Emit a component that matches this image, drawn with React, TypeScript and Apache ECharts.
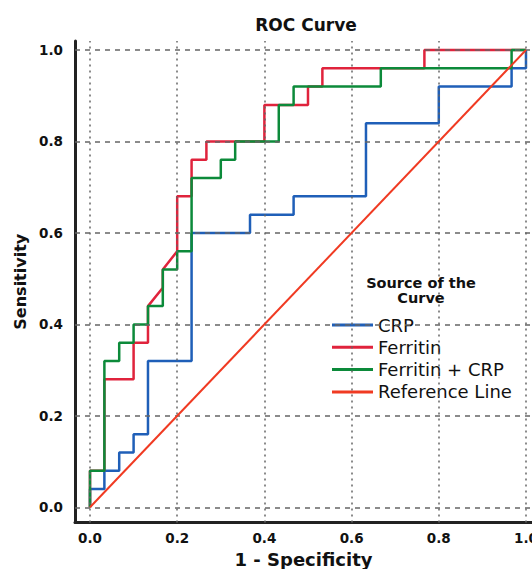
import React, { useEffect, useRef } from "react";
import * as echarts from "echarts";

const xTicks = [0, 0.2, 0.4, 0.6, 0.8, 1.0];
const yTicks = [0, 0.2, 0.4, 0.6, 0.8, 1.0];

const crpX = [0, 0, 0.033, 0.033, 0.067, 0.067, 0.1, 0.1, 0.133, 0.133, 0.233, 0.233, 0.367, 0.367, 0.467, 0.467, 0.633, 0.633, 0.8, 0.8, 0.967, 0.967, 1, 1];
const crpY = [0, 0.04, 0.04, 0.08, 0.08, 0.12, 0.12, 0.16, 0.16, 0.32, 0.32, 0.6, 0.6, 0.64, 0.64, 0.68, 0.68, 0.84, 0.84, 0.92, 0.92, 0.96, 0.96, 1];

const ferX = [0, 0, 0.033, 0.033, 0.1, 0.1, 0.133, 0.133, 0.167, 0.167, 0.2, 0.2, 0.233, 0.233, 0.267, 0.267, 0.4, 0.4, 0.5, 0.5, 0.533, 0.533, 0.767, 0.767, 1];
const ferY = [0, 0.08, 0.08, 0.28, 0.28, 0.36, 0.36, 0.44, 0.48, 0.52, 0.56, 0.68, 0.68, 0.76, 0.76, 0.8, 0.8, 0.88, 0.88, 0.92, 0.92, 0.96, 0.96, 1, 1];

const bothX = [0, 0, 0.033, 0.033, 0.067, 0.067, 0.1, 0.1, 0.133, 0.133, 0.167, 0.167, 0.2, 0.2, 0.233, 0.233, 0.3, 0.3, 0.333, 0.333, 0.433, 0.433, 0.467, 0.467, 0.667, 0.667, 0.967, 0.967, 1];
const bothY = [0, 0.08, 0.08, 0.32, 0.32, 0.36, 0.36, 0.4, 0.4, 0.44, 0.44, 0.52, 0.52, 0.56, 0.56, 0.72, 0.72, 0.76, 0.76, 0.8, 0.8, 0.88, 0.88, 0.92, 0.92, 0.96, 0.96, 1, 1];

const refX = [0, 1];
const refY = [0, 1];

const seriesNames = ["CRP", "Ferritin", "Ferritin + CRP", "Reference Line"];
const colors = ["#1f5fb8", "#e0233c", "#0c8a3a", "#f03a22"];

const pairs = (xs: number[], ys: number[]) => xs.map((x, i) => [x, ys[i]]);

const FONT = "DejaVu Sans";
const W = 532;
const H = 569;

export default function App() {
  const ref = useRef<HTMLDivElement>(null);
  useEffect(() => {
    if (!ref.current) return;
    const chart = echarts.init(ref.current, null, { renderer: "svg", width: W, height: H });
    const lineSeries = (name: string, xs: number[], ys: number[], color: string, width: number, z: number) => ({
      name,
      type: "line",
      data: pairs(xs, ys),
      showSymbol: false,
      symbol: "none",
      lineStyle: { color, width },
      itemStyle: { color },
      z,
      silent: true,
    });
    chart.setOption({
      animation: false,
      backgroundColor: "#ffffff",
      title: [
        {
          text: "ROC Curve",
          left: 301,
          top: 11,
          textAlign: "center",
          textStyle: { fontFamily: FONT, fontSize: 17, fontWeight: "bold", color: "#111" },
        },
        {
          text: "Source of the",
          left: 421,
          top: 275,
          padding: 0,
          textAlign: "center",
          textStyle: { fontFamily: FONT, fontSize: 14.5, fontWeight: "bold", color: "#111", lineHeight: 15 },
        },
        {
          text: "Curve",
          left: 421,
          top: 290,
          padding: 0,
          textAlign: "center",
          textStyle: { fontFamily: FONT, fontSize: 14.5, fontWeight: "bold", color: "#111", lineHeight: 15 },
        },
      ],
      legend: {
        data: seriesNames,
        orient: "vertical",
        left: 327,
        top: 310,
        itemWidth: 41,
        itemHeight: 3,
        itemGap: 2.3,
        icon: "rect",
        textStyle: { fontFamily: FONT, fontSize: 18, color: "#111", lineHeight: 20 },
      },
      grid: { left: 75, right: 0, top: 41, bottom: 46.6, containLabel: false, outerBoundsMode: "none" },
      xAxis: {
        type: "value",
        min: -0.0344,
        max: 1.0138,
        name: "1 - Specificity",
        nameLocation: "middle",
        nameGap: 25,
        nameTextStyle: { fontFamily: FONT, fontSize: 18, fontWeight: "bold", color: "#111" },
        axisLine: { show: true, onZero: false, lineStyle: { color: "#222", width: 3 } },
        axisTick: { show: false },
        splitLine: { show: false },
        axisLabel: {
          customValues: xTicks,
          formatter: (v: number) => v.toFixed(1),
          fontFamily: FONT,
          fontSize: 13.5,
          fontWeight: "bold",
          color: "#111",
          margin: 9,
        },
      },
      yAxis: {
        type: "value",
        min: -0.033,
        max: 1.0197,
        name: "Sensitivity",
        nameLocation: "middle",
        nameRotate: 90,
        nameGap: 45,
        nameTextStyle: { fontFamily: FONT, fontSize: 16, fontWeight: "bold", color: "#111" },
        axisLine: { show: true, onZero: false, lineStyle: { color: "#222", width: 3 } },
        axisTick: { show: false },
        splitLine: { show: false },
        axisLabel: {
          customValues: yTicks,
          formatter: (v: number) => v.toFixed(1),
          fontFamily: FONT,
          fontSize: 13.5,
          fontWeight: "bold",
          color: "#111",
          margin: 12,
        },
      },
      series: [
        {
          name: "grid",
          type: "line",
          data: [],
          z: 1,
          silent: true,
          markLine: {
            silent: true,
            symbol: "none",
            label: { show: false },
            animation: false,
            data: [
              ...xTicks.map((v) => ({ xAxis: v, lineStyle: { color: "#666", width: 1.5, type: [2, 4] } })),
              ...yTicks.map((v) => ({ yAxis: v, lineStyle: { color: "#666", width: 1.5, type: [5, 5] } })),
            ],
          },
        },
        lineSeries(seriesNames[0], crpX, crpY, colors[0], 2.5, 2),
        lineSeries(seriesNames[1], ferX, ferY, colors[1], 2.5, 3),
        lineSeries(seriesNames[2], bothX, bothY, colors[2], 2.5, 4),
        lineSeries(seriesNames[3], refX, refY, colors[3], 2, 5),
      ],
    });
    return () => chart.dispose();
  }, []);
  return (
    <div
      ref={ref}
      style={{ position: "fixed", left: 0, top: 0, width: W, height: H, background: "#fff" }}
    />
  );
}
